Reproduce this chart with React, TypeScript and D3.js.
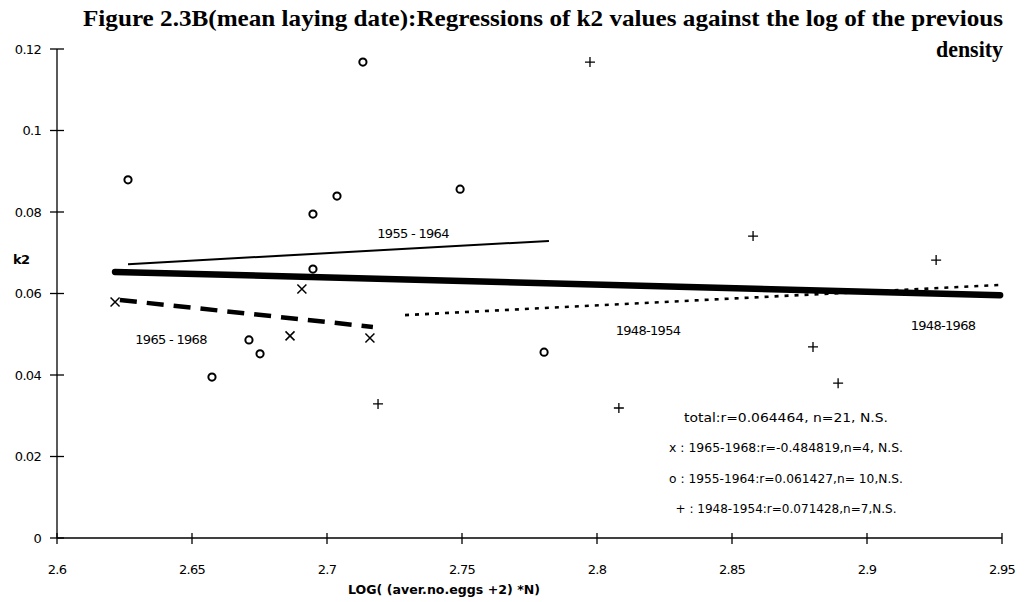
import React from "react";
import * as d3 from "d3";

const xTicks = [2.6, 2.65, 2.7, 2.75, 2.8, 2.85, 2.9, 2.95];
const yTicks = [0, 0.02, 0.04, 0.06, 0.08, 0.1, 0.12];
const yTickLabels = ["0", "0.02", "0.04", "0.06", "0.08", "0.1", "0.12"];

// o : 1955-1964
const circleX = [2.6263, 2.6574, 2.6711, 2.6752, 2.6948, 2.6948, 2.7037, 2.7133, 2.7493, 2.7804];
const circleY = [0.0879, 0.0395, 0.0486, 0.0452, 0.0795, 0.066, 0.0839, 0.1168, 0.0856, 0.0456];
// x : 1965-1968
const crossX = [2.6215, 2.6907, 2.6863, 2.7159];
const crossY = [0.0579, 0.0611, 0.0496, 0.0491];
// + : 1948-1954
const plusX = [2.7974, 2.8578, 2.9256, 2.7189, 2.8081, 2.88, 2.8893];
const plusY = [0.1168, 0.0741, 0.0682, 0.0329, 0.0319, 0.0469, 0.038];

// regression lines: [x1, y1, x2, y2]
const totalLine = [2.6215, 0.0653, 2.9493, 0.0596];
const line5564 = [2.6263, 0.0672, 2.7822, 0.0729];
const line6568 = [2.6233, 0.0584, 2.717, 0.0518];
const line4854 = [2.7289, 0.0547, 2.9493, 0.0621];

const statLines = [
  "total:r=0.064464, n=21, N.S.",
  "x : 1965-1968:r=-0.484819,n=4, N.S.",
  "o : 1955-1964:r=0.061427,n= 10,N.S.",
  "+ : 1948-1954:r=0.071428,n=7,N.S.",
];
const statWidths = [204, 234, 234, 221];

const W = 1025;
const H = 602;
const FONT = "'DejaVu Sans', sans-serif";

export default function App() {
  const x = d3.scaleLinear().domain([2.6, 2.95]).range([57, 1002]);
  const y = d3.scaleLinear().domain([0, 0.12]).range([538, 49]);

  const seg = (l: number[]) => ({ x1: x(l[0]), y1: y(l[1]), x2: x(l[2]), y2: y(l[3]) });

  return (
    <svg
      width={W}
      height={H}
      style={{ position: "absolute", left: 0, top: 0, background: "#fff" }}
    >
      <rect x={0} y={0} width={W} height={H} fill="#fff" />
      {/* title */}
      <text
        x={83}
        y={26}
        fontFamily="'Liberation Serif', serif"
        fontWeight="bold"
        fontSize={23}
        textLength={920}
        lengthAdjust="spacingAndGlyphs"
      >
        Figure 2.3B(mean laying date):Regressions of k2 values against the log of the previous
      </text>
      <text
        x={1003}
        y={57}
        textAnchor="end"
        fontFamily="'Liberation Serif', serif"
        fontWeight="bold"
        fontSize={23}
        textLength={67}
        lengthAdjust="spacingAndGlyphs"
      >
        density
      </text>

      {/* axes */}
      <line x1={x(2.6)} y1={y(0)} x2={x(2.6)} y2={y(0.12)} stroke="#000" strokeWidth={1.3} />
      <line x1={x(2.6)} y1={y(0)} x2={x(2.95)} y2={y(0)} stroke="#000" strokeWidth={1.3} />
      {yTicks.map((t, i) => (
        <g key={"yt" + i}>
          <line x1={x(2.6) - 7} x2={x(2.6) + 7} y1={y(t)} y2={y(t)} stroke="#000" strokeWidth={1.3} />
          <text
            x={41}
            y={y(t) + 4.5}
            textAnchor="end"
            fontFamily={FONT}
            fontSize={13}
            letterSpacing={-0.7}
          >
            {yTickLabels[i]}
          </text>
        </g>
      ))}
      {xTicks.map((t, i) => (
        <g key={"xt" + i}>
          <line x1={x(t)} x2={x(t)} y1={y(0) - 5} y2={y(0) + 6} stroke="#000" strokeWidth={1.3} />
          <text
            x={x(t)}
            y={y(0) + 36}
            textAnchor="middle"
            fontFamily={FONT}
            fontSize={13}
            letterSpacing={-0.7}
          >
            {String(t)}
          </text>
        </g>
      ))}
      <text x={13} y={264} fontFamily={FONT} fontSize={13} fontWeight="bold" letterSpacing={-0.6}>
        k2
      </text>
      <text
        x={348}
        y={594}
        fontFamily={FONT}
        fontSize={11.5}
        fontWeight="bold"
        textLength={192}
        lengthAdjust="spacingAndGlyphs"
      >
        LOG( (aver.no.eggs +2) *N)
      </text>

      {/* regression lines */}
      <line {...seg(line5564)} stroke="#000" strokeWidth={2} />
      <line {...seg(line4854)} stroke="#000" strokeWidth={2.6} strokeDasharray="4 6" />
      <line {...seg(line6568)} stroke="#000" strokeWidth={4.5} strokeDasharray="17 10" />
      <line {...seg(totalLine)} stroke="#000" strokeWidth={6.5} strokeLinecap="round" />

      {/* points */}
      {circleX.map((v, i) => (
        <circle key={"c" + i} cx={x(v)} cy={y(circleY[i])} r={3.6} fill="none" stroke="#000" strokeWidth={2} />
      ))}
      {crossX.map((v, i) => {
        const cx = x(v);
        const cy = y(crossY[i]);
        const s = 4.5;
        return (
          <path
            key={"x" + i}
            d={`M${cx - s},${cy - s}L${cx + s},${cy + s}M${cx - s},${cy + s}L${cx + s},${cy - s}`}
            stroke="#000"
            strokeWidth={1.5}
          />
        );
      })}
      {plusX.map((v, i) => {
        const cx = x(v);
        const cy = y(plusY[i]);
        const s = 5;
        return (
          <path
            key={"p" + i}
            d={`M${cx - s},${cy}L${cx + s},${cy}M${cx},${cy - s}L${cx},${cy + s}`}
            stroke="#000"
            strokeWidth={1.3}
          />
        );
      })}

      {/* line labels */}
      <text x={413} y={238} textAnchor="middle" fontFamily={FONT} fontSize={13} letterSpacing={-0.7}>
        1955 - 1964
      </text>
      <text x={171} y={344} textAnchor="middle" fontFamily={FONT} fontSize={13} letterSpacing={-0.7}>
        1965 - 1968
      </text>
      <text x={648} y={335} textAnchor="middle" fontFamily={FONT} fontSize={13} letterSpacing={-0.7}>
        1948-1954
      </text>
      <text x={943} y={330} textAnchor="middle" fontFamily={FONT} fontSize={13} letterSpacing={-0.7}>
        1948-1968
      </text>

      {/* stats */}
      {statLines.map((s, i) => (
        <text
          key={"s" + i}
          x={786}
          y={421.5 + i * 30.5}
          textAnchor="middle"
          fontFamily={FONT}
          fontSize={12.5}
          textLength={statWidths[i]}
          lengthAdjust="spacingAndGlyphs"
        >
          {s}
        </text>
      ))}
    </svg>
  );
}
